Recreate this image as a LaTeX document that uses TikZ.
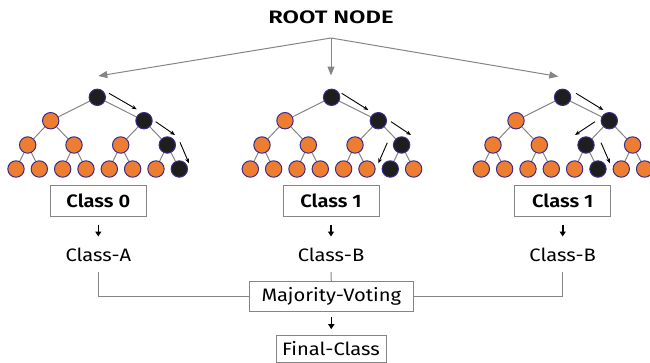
\documentclass[tikz,border=0pt]{standalone}
\usepackage{fontspec}
\setmainfont[FakeStretch=1.12,BoldFont={Fira Sans SemiBold}]{Fira Sans}
\usetikzlibrary{arrows.meta}
\definecolor{orng}{HTML}{ED7D31}
\definecolor{blkn}{HTML}{1E1E1E}
\definecolor{rim}{HTML}{3B2C8C}
\definecolor{edgegray}{HTML}{858585}
\tikzset{
  org/.style={circle,fill=orng,draw=rim,line width=1pt,minimum size=16.4pt,inner sep=0pt},
  blk/.style={circle,fill=blkn,draw=rim,line width=1pt,minimum size=16.4pt,inner sep=0pt},
  edge/.style={draw=edgegray,line width=1pt},
  path/.style={-{Stealth[length=5pt,width=4pt]},line width=0.9pt,black},
  bigarrow/.style={-{Triangle[length=9pt,width=7pt]},draw=edgegray,line width=1pt,edgegray},
  smallarrow/.style={-{Triangle[length=5pt,width=6pt]},line width=1.6pt,black},
  classbox/.style={draw=edgegray,line width=1pt,minimum width=96pt,minimum height=31pt,inner sep=0pt,font=\fontsize{18}{21}\selectfont\bfseries},
  lbl/.style={font=\fontsize{18}{21}\selectfont,inner sep=1pt},
  framebox/.style={draw=edgegray,line width=1pt,inner sep=0pt,font=\fontsize{18}{21}\selectfont},
  conn/.style={draw=edgegray,line width=1pt}
}
\newcommand\mytree[4]{%
  \node[blk] (#1r) at (#2+97.3,97.3) {};
  \node[org] (#1a0) at (#2+50.7,120.7) {};
  \node[blk] (#1a1) at (#2+144,120.7) {};
  \foreach \k/\xx in {0/27.7,1/74,2/120.7,3/167.3}{
    \ifnum\k=#3 \def\st{blk}\else\def\st{org}\fi
    \node[\st] (#1b\k) at (#2+\xx,145) {};
  }
  \foreach \k in {0,...,7}{
    \ifnum\k=#4 \def\st{blk}\else\def\st{org}\fi
    \node[\st] (#1c\k) at (#2+16+23.33*\k,169) {};
  }
  \begin{pgfonlayer}{background}
  \draw[edge] (#1r)--(#1a0) (#1r)--(#1a1) (#1a0)--(#1b0) (#1a0)--(#1b1) (#1a1)--(#1b2) (#1a1)--(#1b3);
  \foreach \k/\m/\n in {0/0/1,1/2/3,2/4/5,3/6/7}{
    \draw[edge] (#1b\k)--(#1c\m) (#1b\k)--(#1c\n);
  }
  \end{pgfonlayer}
}
\pgfdeclarelayer{background}
\pgfsetlayers{background,main}
\begin{document}
\begin{tikzpicture}[x=1pt,y=-1pt]
\useasboundingbox (0,0) rectangle (650,362);
\node[font=\fontsize{18}{21}\selectfont\bfseries] (root) at (331,17) {\scalebox{1.18}[1]{ROOT NODE}};
\coordinate (rs) at (331,38);
\mytree{A}{0}{3}{7}
\mytree{B}{234.3}{3}{6}
\mytree{C}{465.3}{2}{5}
\coordinate (ta) at (98.3,76);
\coordinate (tb) at (331,75.5);
\coordinate (tc) at (558.3,76.5);
\draw[bigarrow] (rs)--(ta);
\draw[bigarrow] (rs)--(tb);
\draw[bigarrow] (rs)--(tc);
% path arrows tree 1
\draw[path] (109,93.3)--(136.7,109.3);
\draw[path] (155.7,121.7)--(175,135);
\draw[path] (180,142.3)--(189,163.3);
% tree 2
\draw[path] (341.7,93.3)--(368.3,110);
\draw[path] (391,121.7)--(411,135);
\draw[path] (387.3,142.7)--(378.3,163.3);
% tree 3
\draw[path] (576,93.3)--(603.3,110);
\draw[path] (595,121.7)--(575,135);
\draw[path] (601,142.7)--(610,163.3);
% class boxes
\node[classbox] (k1) at (98.3,200.5) {Class 0};
\node[classbox] (k2) at (331,200.5) {Class 1};
\node[classbox] (k3) at (562.7,200.5) {Class 1};
\node[lbl] (c1) at (98.3,255) {Class-A};
\node[lbl] (c2) at (331,255) {Class-B};
\node[lbl] (c3) at (562.7,255) {Class-B};
\draw[smallarrow] ([yshift=-8pt]k1.south)--([yshift=-20pt]k1.south);
\draw[smallarrow] ([yshift=-8pt]k2.south)--([yshift=-20pt]k2.south);
\draw[smallarrow] ([yshift=-8pt]k3.south)--([yshift=-20pt]k3.south);
\node[framebox,minimum width=164pt,minimum height=30pt] (mv) at (331.3,296.7) {Majority-Voting};
\node[framebox,minimum width=110pt,minimum height=27pt] (fc) at (331,348.5) {Final-Class};
\draw[conn] ([yshift=-9pt]c1.south) |- (mv.west);
\draw[conn] ([yshift=-9pt]c3.south) |- (mv.east);
\draw[conn] ([yshift=-9pt]c2.south) -- (mv.north);
\draw[smallarrow] ([yshift=-5pt]mv.south)--([yshift=-17pt]mv.south);
\end{tikzpicture}
\end{document}
